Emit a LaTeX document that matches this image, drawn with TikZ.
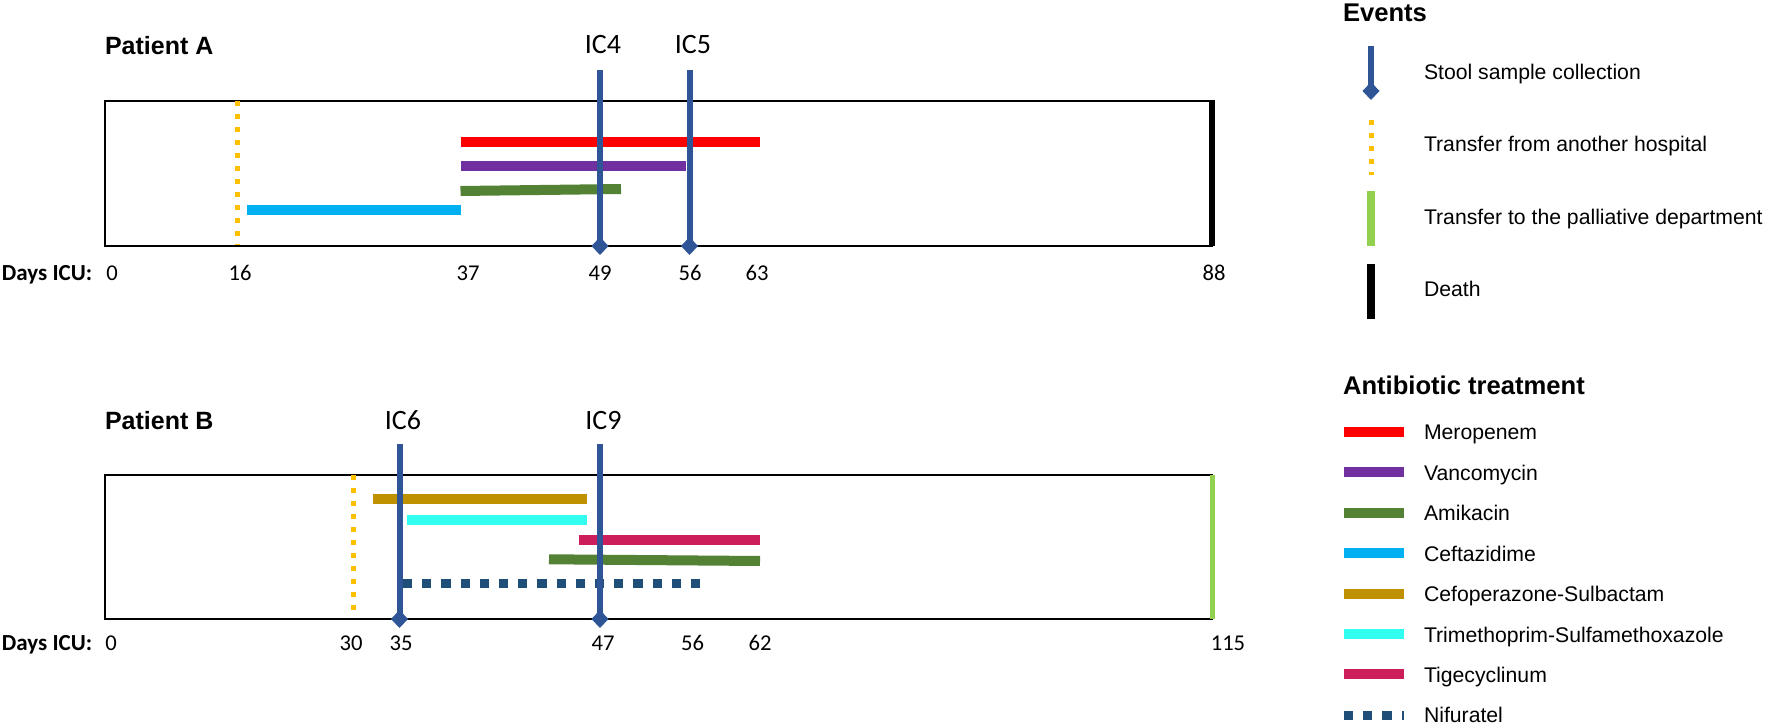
\documentclass[tikz,border=0pt]{standalone}
\usepackage{fontspec}
\setmainfont{Liberation Sans}
\newfontfamily\calfont{Carlito}
\usetikzlibrary{arrows.meta}
\definecolor{sampleblue}{HTML}{2F5597}
\definecolor{transyellow}{HTML}{FFC000}
\definecolor{palgreen}{HTML}{92D050}
\definecolor{mero}{HTML}{FF0000}
\definecolor{vanco}{HTML}{7030A0}
\definecolor{amika}{HTML}{548235}
\definecolor{ceftaz}{HTML}{00B0F0}
\definecolor{cefop}{HTML}{BF9000}
\definecolor{trimeth}{HTML}{33FFF0}
\definecolor{tige}{HTML}{CC1E5A}
\definecolor{nifur}{HTML}{1F4E79}
\begin{document}
\begin{tikzpicture}[x=0.5pt,y=-0.5pt,
  txt/.style={inner sep=0pt, outer sep=0pt},
  ptitle/.style={txt, font=\fontsize{12.5}{14}\selectfont\bfseries},
  lhead/.style={txt, font=\fontsize{12.8}{15}\selectfont\bfseries},
  ltext/.style={txt, font=\fontsize{10.6}{12}\selectfont},
  iclab/.style={txt, font=\calfont\fontsize{14}{16}\selectfont},
  daylab/.style={txt, font=\calfont\fontsize{11.5}{13}\selectfont\bfseries},
  num/.style={txt, font=\calfont\fontsize{11.3}{13}\selectfont},
  boxline/.style={draw=black, line width=1pt},
  bar/.style={line width=5pt},
  sample/.style={draw=sampleblue, line width=3pt,
     -{Diamond[length=9pt,width=8.5pt,line width=0pt,fill=sampleblue]}},
  transfer/.style={draw=transyellow, line width=2.5pt, dash pattern=on 2.5pt off 4pt},
  nifdash/.style={draw=nifur, line width=4.5pt, dash pattern=on 4.6pt off 5pt},
  death/.style={draw=black, line width=3pt},
  pall/.style={draw=palgreen, line width=2.5pt}
]
\useasboundingbox (0,0) rectangle (1772,726);

% ---------------- Patient A ----------------
\node[ptitle, anchor=base west] (pA) at (105,55) {Patient A};
\coordinate (A-tl) at (105,101);
\coordinate (A-br) at (1212,245.7);
\draw[boxline] (A-tl) rectangle (A-br);

% antibiotic bars
\draw[bar, mero]   (460.5,141.7) coordinate (mA1) -- (760,141.7) coordinate (mA2);
\draw[bar, vanco]  (460.5,165.7) coordinate (vA1) -- (686,165.7) coordinate (vA2);
\draw[bar, amika]  (460.5,191) coordinate (aA1) -- (621,189) coordinate (aA2);
\draw[bar, ceftaz] (247,210) coordinate (cA1) -- (460.5,210) coordinate (cA2);

% events
\coordinate (trA1) at (237,101.5);
\coordinate (trA2) at (237,245);
\draw[transfer] (trA1) -- (trA2);

\node[iclab, anchor=base] (ic4) at (603,53.3) {IC4};
\node[iclab, anchor=base] (ic5) at (693,53.3) {IC5};
\coordinate (ic4t) at (600,70);   \coordinate (ic4b) at (600,255);
\coordinate (ic5t) at (689.5,70); \coordinate (ic5b) at (689.5,255);
\draw[sample] (ic4t) -- (ic4b);
\draw[sample] (ic5t) -- (ic5b);

\coordinate (dth1) at (1212,100.5);
\coordinate (dth2) at (1212,246.2);
\draw[death] (dth1) -- (dth2);

% axis labels
\node[daylab, anchor=base west] (dA) at (2,280.5) {Days ICU:};
\node[num, anchor=base] (a0)  at (112,280.5) {0};
\node[num, anchor=base] (a16) at (240,280.5) {16};
\node[num, anchor=base] (a37) at (468,280.5) {37};
\node[num, anchor=base] (a49) at (600,280.5) {49};
\node[num, anchor=base] (a56) at (690,280.5) {56};
\node[num, anchor=base] (a63) at (757,280.5) {63};
\node[num, anchor=base] (a88) at (1214,280.5) {88};

% ---------------- Patient B ----------------
\node[ptitle, anchor=base west] (pB) at (105,429.3) {Patient B};
\coordinate (B-tl) at (105,475);
\coordinate (B-br) at (1212,619);
\draw[boxline] (B-tl) rectangle (B-br);

\draw[bar, cefop]   (373,499) coordinate (cfB1) -- (586.5,499) coordinate (cfB2);
\draw[bar, trimeth] (406.5,520) coordinate (tmB1) -- (586.5,520) coordinate (tmB2);
\draw[bar, tige]    (579,540) coordinate (tgB1) -- (760,540) coordinate (tgB2);
\draw[bar, amika]   (549,559.3) coordinate (aB1) -- (760,561) coordinate (aB2);
\draw[nifdash]      (403,584) coordinate (nB1) -- (700,584) coordinate (nB2);

\coordinate (trB1) at (353,475.5);
\coordinate (trB2) at (353,616);
\draw[transfer] (trB1) -- (trB2);

\node[iclab, anchor=base] (ic6) at (403,430) {IC6};
\node[iclab, anchor=base] (ic9) at (603.5,430) {IC9};
\coordinate (ic6t) at (399.5,444); \coordinate (ic6b) at (399.5,628);
\coordinate (ic9t) at (600,444);   \coordinate (ic9b) at (600,628);
\draw[sample] (ic6t) -- (ic6b);
\draw[sample] (ic9t) -- (ic9b);

\coordinate (pal1) at (1212,475);
\coordinate (pal2) at (1212,619);
\draw[pall] (pal1) -- (pal2);

\node[daylab, anchor=base west] (dB) at (2,650) {Days ICU:};
\node[num, anchor=base] (b0)   at (111,650) {0};
\node[num, anchor=base] (b30)  at (351,650) {30};
\node[num, anchor=base] (b35)  at (401,650) {35};
\node[num, anchor=base] (b47)  at (603,650) {47};
\node[num, anchor=base] (b56)  at (692.5,650) {56};
\node[num, anchor=base] (b62)  at (760,650) {62};
\node[num, anchor=base] (b115) at (1228,650) {115};

% ---------------- Legend: Events ----------------
\node[lhead, anchor=base west] (evh) at (1343,21.7) {Events};
\coordinate (ls1) at (1371,46);   \coordinate (ls2) at (1371,100);
\draw[sample] (ls1) -- (ls2);
\node[ltext, anchor=base west] (lst) at (1424,80) {Stool sample collection};
\coordinate (ly1) at (1371,120.5); \coordinate (ly2) at (1371,175);
\draw[transfer] (ly1) -- (ly2);
\node[ltext, anchor=base west] (lyt) at (1424,151.7) {Transfer from another hospital};
\coordinate (lg1) at (1371,191); \coordinate (lg2) at (1371,246);
\draw[draw=palgreen, line width=4pt] (lg1) -- (lg2);
\node[ltext, anchor=base west] (lgt) at (1424,225) {Transfer to the palliative department};
\coordinate (lk1) at (1371,264); \coordinate (lk2) at (1371,319);
\draw[draw=black, line width=4pt] (lk1) -- (lk2);
\node[ltext, anchor=base west] (lkt) at (1424,297) {Death};

% ---------------- Legend: Antibiotics ----------------
\node[lhead, anchor=base west] (abh) at (1343,394.3) {Antibiotic treatment};
\foreach \c/\t/\b/\n in {mero/Meropenem/440/l1, vanco/Vancomycin/480.4/l2,
    amika/Amikacin/520.8/l3, ceftaz/Ceftazidime/561.2/l4,
    cefop/Cefoperazone-Sulbactam/601.6/l5, trimeth/Trimethoprim-Sulfamethoxazole/642/l6,
    tige/Tigecyclinum/682.4/l7}{
  \draw[bar, \c] (1344,\b-8) -- (1404,\b-8);
  \node[ltext, anchor=base west] (\n) at (1424,\b) {\t};
}
\draw[nifdash] (1344,715) coordinate (ln1) -- (1404,715) coordinate (ln2);
\node[ltext, anchor=base west] (l8) at (1424,722.8) {Nifuratel};
\end{tikzpicture}
\end{document}
